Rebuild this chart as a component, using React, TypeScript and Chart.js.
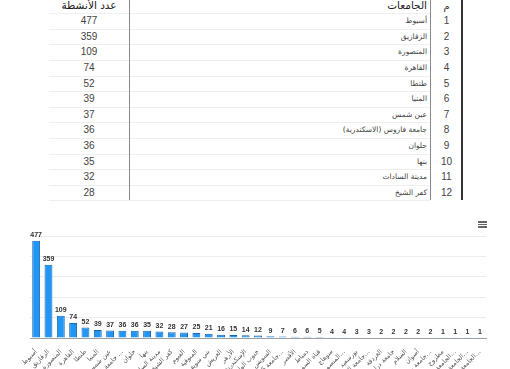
import React, { useEffect, useRef } from "react";
import { Chart, registerables } from "chart.js";

Chart.register(...registerables);

const universities: string[] = [
  "أسيوط",
  "الزقازيق",
  "المنصورة",
  "القاهرة",
  "طنطا",
  "المنيا",
  "عين شمس",
  "جامعة فاروس (الاسكندرية)",
  "حلوان",
  "بنها",
  "مدينة السادات",
  "كفر الشيخ",
  "الفيوم",
  "المنوفية",
  "بني سويف",
  "العريش",
  "الأزهر",
  "الإسكندرية",
  "جنوب الوادي",
  "السويس",
  "جامعة 6 أكتوبر",
  "الأقصر",
  "دمياط",
  "قناة السويس",
  "سوهاج",
  "المنصورة الأهلية",
  "بورسعيد",
  "جامعة السادات الأهلية",
  "الغردقة",
  "جامعة دراية",
  "السلام",
  "أسوان",
  "جامعة بدر للعلوم",
  "مطروح",
  "الجامعة الألمانية",
  "الجامعة البريطانية",
  "الجامعة المصرية الروسية",
];

const activities: number[] = [
  477, 359, 109, 74, 52, 39, 37, 36, 36, 35, 32, 28, 27, 25, 21, 16, 15, 14, 12,
  9, 7, 6, 6, 5, 4, 4, 3, 3, 2, 2, 2, 2, 2, 1, 1, 1, 1,
];

const tableRowCount = 12;
const headerCount = "عدد الأنشطة";
const headerName = "الجامعات";
const headerIndex = "م";

const yTicks: number[] = [0, 100, 200, 300, 400, 500];

const ROW_H = 15.6;
const TABLE_TOP = 13.2;

function Table() {
  const rows = universities.slice(0, tableRowCount).map((name, i) => ({
    name,
    value: activities[i],
    idx: i + 1,
  }));
  const font = '"Liberation Sans", "DejaVu Sans", Arial, sans-serif';
  return (
    <div style={{ position: "absolute", left: 0, top: 0, width: 510, height: 205 }}>
      <div style={{ position: "absolute", left: 49, width: 80, top: -2, height: 15, textAlign: "center", fontFamily: '"DejaVu Sans", sans-serif', fontSize: 10.5, color: "#222", lineHeight: "15px" }}>{headerCount}</div>
      <div style={{ position: "absolute", left: 300, width: 127, top: -2, height: 15, textAlign: "right", fontFamily: '"DejaVu Sans", sans-serif', fontSize: 10.5, color: "#222", lineHeight: "15px", direction: "rtl" }}>{headerName}</div>
      <div style={{ position: "absolute", left: 431, width: 31, top: -1, height: 15, textAlign: "center", fontFamily: '"DejaVu Sans", sans-serif', fontSize: 10, color: "#333", lineHeight: "15px" }}>{headerIndex}</div>
      {Array.from({ length: tableRowCount + 1 }).map((_, k) => (
        <div key={"h" + k} style={{ position: "absolute", left: 49, width: 381, top: TABLE_TOP + k * ROW_H, height: 1, background: "#efefef" }} />
      ))}
      {rows.map((r, i) => (
        <React.Fragment key={i}>
          <div style={{ position: "absolute", left: 49, width: 80, top: TABLE_TOP + i * ROW_H, height: ROW_H, lineHeight: ROW_H + "px", textAlign: "center", fontFamily: font, fontSize: 10, color: "#444" }}>{r.value}</div>
          <div style={{ position: "absolute", left: 200, width: 227, top: TABLE_TOP + i * ROW_H, height: ROW_H, lineHeight: ROW_H + "px", textAlign: "right", direction: "rtl", fontFamily: '"DejaVu Sans", sans-serif', fontSize: 7.5, color: "#444" }}>{r.name}</div>
          <div style={{ position: "absolute", left: 431, width: 31, top: TABLE_TOP + i * ROW_H, height: ROW_H, lineHeight: ROW_H + "px", textAlign: "center", fontFamily: font, fontSize: 10, color: "#444" }}>{r.idx}</div>
        </React.Fragment>
      ))}
      <div style={{ position: "absolute", left: 129, width: 1, top: 0, height: 200, background: "#8a8a8a" }} />
      <div style={{ position: "absolute", left: 430, width: 1, top: 0, height: 200, background: "#8a8a8a" }} />
      <div style={{ position: "absolute", left: 461, width: 2, top: 0, height: 200, background: "#333" }} />
    </div>
  );
}

const dataLabelPlugin = {
  id: "dataLabels",
  afterDatasetsDraw(chart: any) {
    const ctx = chart.ctx;
    const meta = chart.getDatasetMeta(0);
    ctx.save();
    ctx.font = 'bold 7px "Liberation Sans", Arial, sans-serif';
    ctx.fillStyle = "#333";
    ctx.textAlign = "center";
    ctx.textBaseline = "bottom";
    meta.data.forEach((el: any, i: number) => {
      ctx.fillText(String(activities[i]), el.x, el.y - 2);
    });
    ctx.restore();
  },
};

function truncate(s: string): string {
  return s.length > 13 ? s.slice(0, 12) + "…" : s;
}

export default function App() {
  const ref = useRef<HTMLCanvasElement | null>(null);
  useEffect(() => {
    document.body.style.margin = "0";
    document.body.style.background = "#fff";
    if (!ref.current) return;
    const chart = new Chart(ref.current, {
      type: "bar",
      data: {
        labels: universities,
        datasets: [
          {
            data: activities,
            backgroundColor: "#2196f3",
            borderColor: "#1767b3",
            borderWidth: 1,
            barPercentage: 0.8,
            categoryPercentage: 0.8,
          },
        ],
      },
      options: {
        animation: false,
        responsive: false,
        devicePixelRatio: 1,
        layout: { padding: { top: 31, left: 30, right: 24, bottom: 0 } },
        plugins: { legend: { display: false }, tooltip: { enabled: false } },
        scales: {
          x: {
            grid: { display: false },
            border: { display: true, color: "#9aa0a6", width: 1 },
            ticks: {
              autoSkip: false,
              minRotation: 45,
              maxRotation: 45,
              padding: 2,
              color: "#555",
              font: { size: 6.5, family: '"DejaVu Sans", sans-serif' },
              callback: function (this: any, v: any) {
                return truncate(universities[v as number]);
              },
            },
            afterFit: (axis: any) => {
              axis.height = 31;
            },
          },
          y: {
            min: yTicks[0],
            max: yTicks[yTicks.length - 1],
            afterBuildTicks: (axis: any) => {
              axis.ticks = yTicks.map((v) => ({ value: v }));
            },
            ticks: { display: false },
            grid: { color: "#ececec", drawTicks: false },
            border: { display: false },
            afterFit: (axis: any) => {
              axis.width = 0;
            },
          },
        },
      },
      plugins: [dataLabelPlugin],
    });
    return () => chart.destroy();
  }, []);
  return (
    <div style={{ position: "relative", width: 510, height: 369, overflow: "hidden", background: "#fff" }}>
      <Table />
      <canvas ref={ref} width={510} height={164} style={{ position: "absolute", left: 0, top: 205, width: 510, height: 164 }} />
      <div style={{ position: "absolute", left: 478, top: 221, width: 9 }}>
        <div style={{ height: 1.5, background: "#666", marginBottom: 1 }} />
        <div style={{ height: 1.5, background: "#666", marginBottom: 1 }} />
        <div style={{ height: 1.5, background: "#666" }} />
      </div>
    </div>
  );
}
